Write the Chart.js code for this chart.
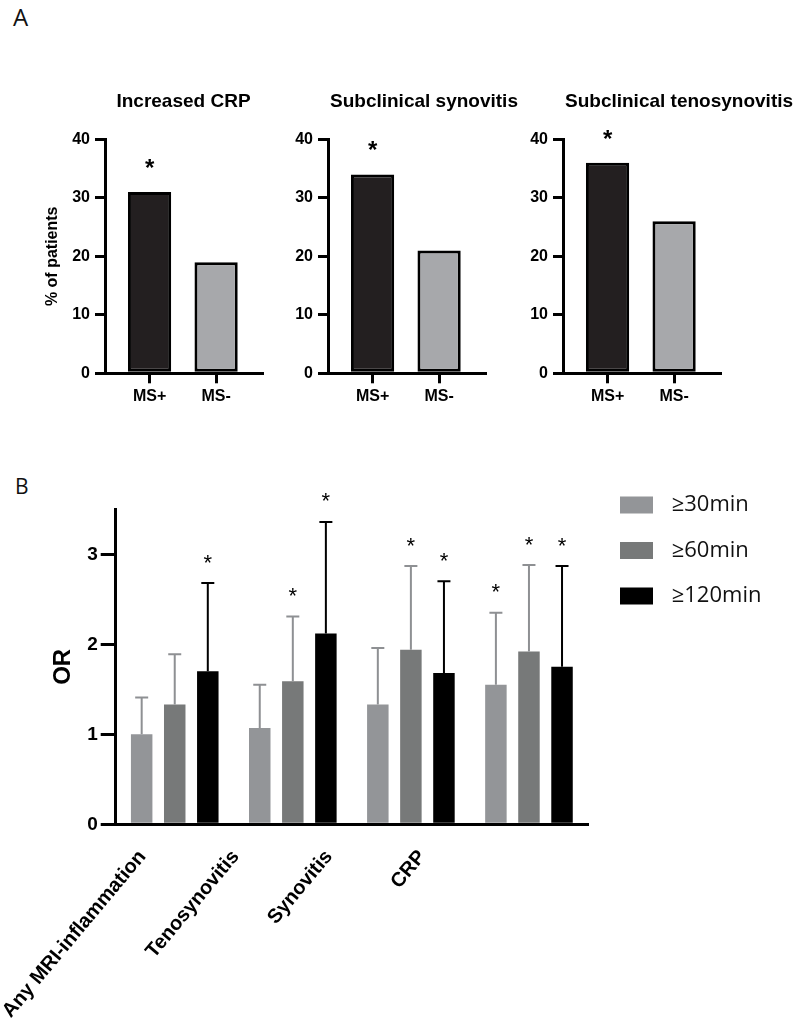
<!DOCTYPE html>
<html>
<head>
<meta charset="utf-8">
<script src="https://cdn.jsdelivr.net/npm/chart.js@4.4.1/dist/chart.umd.min.js"></script>
<style>
  body { margin: 0; background: #fff; }
  #page { position: relative; width: 800px; height: 1028px; overflow: hidden; }
  canvas { position: absolute; }
  .tag { position: absolute; font-family: "Open Sans", sans-serif; line-height: 1; color: #111; }
</style>
</head>
<body>
<div id="page">
  <div class="tag" style="left:13px; top:5px; font-size:24px;">A</div>
  <div class="tag" style="left:15px; top:476px; font-size:21px;">B</div>
  <canvas id="crpChart" width="270" height="340" style="left:0; top:80px;"></canvas>
  <canvas id="synChart" width="260" height="340" style="left:270px; top:80px;"></canvas>
  <canvas id="tenoChart" width="270" height="340" style="left:530px; top:80px;"></canvas>
  <canvas id="orChart" width="800" height="558" style="left:0; top:470px;"></canvas>
</div>
<script>
// panel A: % of patients, MS+ vs MS-
const msGroups = ["MS+", "MS-"];
const crpPatients = [31, 19];
const synovitisPatients = [34, 21];
const tenosynovitisPatients = [36, 26];
const msStars = [true, false];

// panel B: odds ratios per morning stiffness duration
const outcomes = ["Any MRI-inflammation", "Tenosynovitis", "Synovitis", "CRP"];
const stiffness = ["\u226530min", "\u226560min", "\u2265120min"];
const or30 = [1.00, 1.07, 1.33, 1.55];
const or60 = [1.33, 1.59, 1.94, 1.92];
const or120 = [1.70, 2.12, 1.68, 1.75];
const upper30 = [1.41, 1.55, 1.96, 2.35];
const upper60 = [1.89, 2.31, 2.87, 2.88];
const upper120 = [2.68, 3.36, 2.70, 2.87];
const stars30 = [false, false, false, true];
const stars60 = [false, true, true, true];
const stars120 = [true, true, true, true];

const sans = "'Liberation Sans', Arial, Helvetica, sans-serif";
Chart.defaults.font.family = sans;
Chart.defaults.color = "#000";

// whiskers (upper only) and significance asterisks
const marksPlugin = {
    id: "marks",
    afterDatasetsDraw(chart, args, opts) {
        let ctx = chart.ctx;
        let y = chart.scales.y;
        ctx.save();
        chart.data.datasets.forEach((ds, di) => {
            chart.getDatasetMeta(di).data.forEach((bar, i) => {
                let top = bar.y;
                if (ds.upper) {
                    top = y.getPixelForValue(ds.upper[i]);
                    ctx.strokeStyle = ds.whiskerColor;
                    ctx.lineWidth = opts.lineWidth;
                    ctx.beginPath();
                    ctx.moveTo(bar.x, bar.y);
                    ctx.lineTo(bar.x, top);
                    ctx.moveTo(bar.x - opts.capWidth / 2, top);
                    ctx.lineTo(bar.x + opts.capWidth / 2, top);
                    ctx.stroke();
                }
                if (ds.stars && ds.stars[i]) {
                    ctx.fillStyle = "#000";
                    ctx.font = opts.starFont;
                    ctx.textAlign = "center";
                    ctx.textBaseline = "alphabetic";
                    ctx.fillText("*", bar.x, top - opts.starGap);
                }
            });
        });
        ctx.restore();
    }
};

// the built-in title squeezes long text into the plot width, so draw it here
const panelTitlePlugin = {
    id: "panelTitle",
    afterDraw(chart, args, opts) {
        let ctx = chart.ctx;
        let area = chart.chartArea;
        ctx.save();
        ctx.font = opts.font;
        ctx.fillStyle = "#000";
        ctx.textBaseline = "middle";
        if (opts.align === "center") {
            ctx.textAlign = "center";
            ctx.fillText(opts.text, (area.left + area.right) / 2, area.top - opts.rise);
        } else {
            ctx.textAlign = "left";
            ctx.fillText(opts.text, area.left + opts.inset, area.top - opts.rise);
        }
        ctx.restore();
    }
};

const sideLegendPlugin = {
    id: "sideLegend",
    afterDraw(chart, args, opts) {
        let ctx = chart.ctx;
        let area = chart.chartArea;
        ctx.save();
        ctx.font = opts.font;
        ctx.textBaseline = "middle";
        ctx.textAlign = "left";
        chart.data.datasets.forEach((ds, i) => {
            let cy = area.top + opts.top + i * opts.spacing;
            let x = area.right + opts.offset;
            ctx.fillStyle = ds.backgroundColor;
            ctx.fillRect(x, cy - opts.boxHeight / 2, opts.boxWidth, opts.boxHeight);
            ctx.fillStyle = "#111";
            ctx.fillText(ds.label, x + opts.boxWidth + opts.gap, cy);
        });
        ctx.restore();
    }
};

// category names, slanted and drawn a bit tighter than the bar groups
const slantedLabelsPlugin = {
    id: "slantedLabels",
    afterDraw(chart, args, opts) {
        let ctx = chart.ctx;
        let x = chart.scales.x;
        ctx.save();
        ctx.font = opts.font;
        ctx.fillStyle = "#000";
        ctx.textAlign = "right";
        ctx.textBaseline = "middle";
        chart.data.labels.forEach((label, i) => {
            let px = x.getPixelForValue(i);
            ctx.save();
            ctx.translate(x.left + (px - x.left) * opts.squeeze - opts.shift, x.top + opts.drop);
            ctx.rotate(-opts.angle * Math.PI / 180);
            ctx.fillText(label, 0, 0);
            ctx.restore();
        });
        ctx.restore();
    }
};

function drawPanelA(canvasId, title, values, layout) {
    return new Chart(document.getElementById(canvasId), {
        type: "bar",
        data: {
            datasets: [{
                data: values.map((v, i) => ({ x: i, y: v })),
                stars: msStars,
                backgroundColor: ["#231f20", "#a7a8ab"],
                borderColor: "#000",
                borderWidth: 3,
                borderSkipped: false,
                categoryPercentage: 1,
                barPercentage: 0.65
            }]
        },
        options: {
            responsive: false,
            animation: false,
            layout: { padding: { left: 0, right: layout.right, top: 59.3, bottom: 6.7 } },
            plugins: {
                legend: { display: false },
                tooltip: { enabled: false },
                panelTitle: { text: title, align: layout.titleAlign, font: "bold 19px " + sans, rise: 37.3, inset: 2 },
                marks: { starFont: "bold 24px " + sans, starGap: 16, capWidth: 0, lineWidth: 0 }
            },
            scales: {
                x: {
                    type: "linear",
                    z: 1,
                    min: -0.67,
                    max: 1.69,
                    bounds: "data",
                    offset: false,
                    afterFit: s => { s.height = 40; },
                    afterBuildTicks: s => { s.ticks = msGroups.map((g, i) => ({ value: i })); },
                    grid: { display: true, offset: false, drawOnChartArea: false, tickLength: 10, lineWidth: 3, color: "#000" },
                    border: { color: "#000", width: 3 },
                    ticks: {
                        padding: 4,
                        autoSkip: false,
                        color: "#000",
                        font: { size: 16, weight: "bold" },
                        callback: v => msGroups[v]
                    }
                },
                y: {
                    z: 1,
                    min: 0,
                    max: 40,
                    afterFit: s => { s.width = layout.axisWidth; },
                    grid: { drawOnChartArea: false, tickLength: 10, lineWidth: 3, color: "#000" },
                    border: { color: "#000", width: 3 },
                    ticks: { stepSize: 10, padding: 5, color: "#000", font: { size: 16, weight: "bold" } },
                    title: {
                        display: layout.yTitle,
                        text: "% of patients",
                        color: "#000",
                        font: { size: 16, weight: "bold" },
                        padding: { top: 43.4 }
                    }
                }
            }
        },
        plugins: [marksPlugin, panelTitlePlugin]
    });
}

drawPanelA("crpChart", "Increased CRP", crpPatients, { axisWidth: 105, right: 8, titleAlign: "center", yTitle: true });
drawPanelA("synChart", "Subclinical synovitis", synovitisPatients, { axisWidth: 58, right: 45, titleAlign: "start", yTitle: false });
drawPanelA("tenoChart", "Subclinical tenosynovitis", tenosynovitisPatients, { axisWidth: 33, right: 80, titleAlign: "start", yTitle: false });

function orDataset(i, values, upper, stars, fill, whisker) {
    return {
        label: stiffness[i],
        data: values,
        upper: upper,
        stars: stars,
        backgroundColor: fill,
        whiskerColor: whisker,
        categoryPercentage: 0.84,
        barPercentage: 0.65
    };
}

new Chart(document.getElementById("orChart"), {
    type: "bar",
    data: {
        labels: outcomes,
        datasets: [
            orDataset(0, or30, upper30, stars30, "#939598", "#8e9093"),
            orDataset(1, or60, upper60, stars60, "#777979", "#8e9093"),
            orDataset(2, or120, upper120, stars120, "#000000", "#000000")
        ]
    },
    options: {
        responsive: false,
        animation: false,
        layout: { padding: { left: 0, right: 212, top: 39.3, bottom: 203.7 } },
        plugins: {
            legend: { display: false },
            tooltip: { enabled: false },
            marks: { starFont: "22px " + sans, starGap: 13.5, capWidth: 13, lineWidth: 2 },
            sideLegend: { font: "22px 'Open Sans', sans-serif", top: -4.3, spacing: 45.5, offset: 32, boxWidth: 33, boxHeight: 17, gap: 18.7 },
            slantedLabels: { font: "bold 20px " + sans, angle: 50, drop: 29, squeeze: 0.79, shift: 20 }
        },
        scales: {
            x: {
                z: 1,
                afterFit: s => { s.height = 0; },
                grid: { display: false },
                border: { color: "#000", width: 3 },
                ticks: { display: false }
            },
            y: {
                z: 1,
                min: 0,
                max: 3.5,
                afterFit: s => { s.width = 115.7; },
                grid: { drawOnChartArea: false, tickLength: 15, lineWidth: 3, color: "#000" },
                border: { color: "#000", width: 3 },
                ticks: { stepSize: 1, includeBounds: false, padding: 3, color: "#000", font: { size: 19, weight: "bold" } },
                title: {
                    display: true,
                    text: "OR",
                    color: "#000",
                    font: { size: 24, weight: "bold" },
                    padding: { top: 49 }
                }
            }
        }
    },
    plugins: [marksPlugin, sideLegendPlugin, slantedLabelsPlugin]
});
</script>
</body>
</html>
